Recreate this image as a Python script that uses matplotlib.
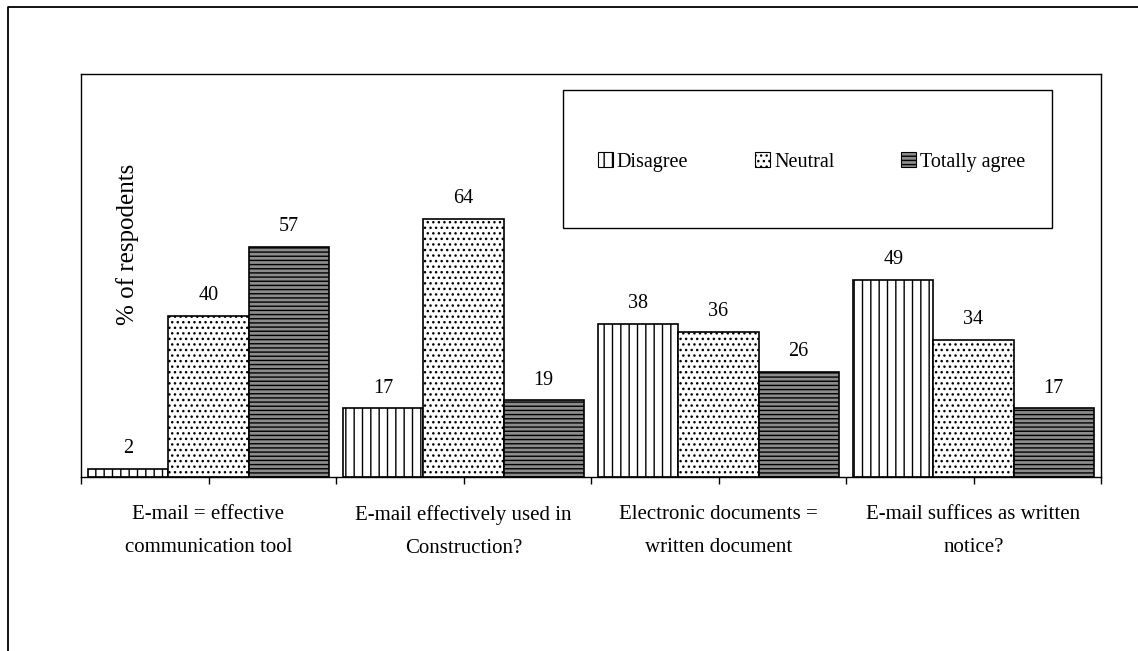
import matplotlib
matplotlib.use("Agg")
import matplotlib.pyplot as plt
from matplotlib.patches import Rectangle, Patch
from matplotlib.lines import Line2D
import numpy as np

plt.rcParams['font.family'] = ['Liberation Serif', 'DejaVu Serif']
plt.rcParams['hatch.linewidth'] = 1.0

categories = [
    "E-mail = effective\ncommunication tool",
    "E-mail effectively used in\nConstruction?",
    "Electronic documents =\nwritten document",
    "E-mail suffices as written\nnotice?",
]
series_names = ["Disagree", "Neutral", "Totally agree"]
disagree = [2, 17, 38, 49]
neutral = [40, 64, 36, 34]
totally_agree = [57, 19, 26, 17]

series_values = [disagree, neutral, totally_agree]
faces = ["white", "white", "#8c8c8c"]
hatches = ["||", "...", "----"]

W, H = 1138, 651
fig = plt.figure(figsize=(W / 100, H / 100), dpi=100)
fig.patch.set_facecolor("white")

ax = fig.add_axes([81 / W, 1 - 477 / H, (1101 - 81) / W, (477 - 74) / H])

x = np.arange(len(categories))
bw = 0.314
for i, (vals, fc, ht) in enumerate(zip(series_values, faces, hatches)):
    pos = x + (i - 1) * bw
    bars = ax.bar(pos, vals, width=bw, facecolor=fc, edgecolor="black",
                  hatch=ht, linewidth=1.2, zorder=2)
    for b, v in zip(bars, vals):
        ax.annotate(str(v), (b.get_x() + b.get_width() / 2, v),
                    xytext=(0, 7.8), textcoords="offset points",
                    ha="center", va="bottom", fontsize=14.5)

ax.set_xlim(-0.5, len(categories) - 0.5)
ax.set_ylim(0, 100)
ax.set_yticks([])
ax.set_xticks(x)
ax.set_xticklabels(categories, fontsize=15, linespacing=1.98)
ax.set_xticks(np.arange(-0.5, len(categories), 1.0), minor=True)
ax.tick_params(axis="x", which="both", direction="out", length=5,
               width=1, color="black", pad=15.5)
for s in ax.spines.values():
    s.set_linewidth(1.0)
    s.set_color("black")

ax.text(0.046, 0.576, "% of respodents", rotation=90, transform=ax.transAxes,
        ha="center", va="center", fontsize=18)

# legend box
lx0, lx1, ly0, ly1 = 563, 1052, 90, 228
fig.patches.append(Rectangle((lx0 / W, 1 - ly1 / H), (lx1 - lx0) / W, (ly1 - ly0) / H,
                             transform=fig.transFigure, facecolor="white",
                             edgecolor="black", linewidth=1.0, zorder=3))
handles = [Patch(facecolor=fc, edgecolor="black", hatch=ht, linewidth=0.8)
           for fc, ht in zip(faces, hatches)]
leg = fig.legend(handles, series_names, ncol=3, frameon=False,
                 loc="center",
                 bbox_to_anchor=((lx0 + lx1) / 2 / W + 4 / W, 1 - (ly0 + ly1) / 2 / H - 3 / H),
                 fontsize=14.5, handlelength=0.75, handleheight=0.75,
                 handletextpad=0.2, columnspacing=3.3)
leg.set_zorder(4)

# outer border
fig.add_artist(Line2D([7.5 / W, 7.5 / W, 1.0], [0.0, 1 - 6.5 / H, 1 - 6.5 / H],
                      transform=fig.transFigure, color="black", linewidth=1.3))

fig.savefig("out.png", dpi=100, facecolor="white")
